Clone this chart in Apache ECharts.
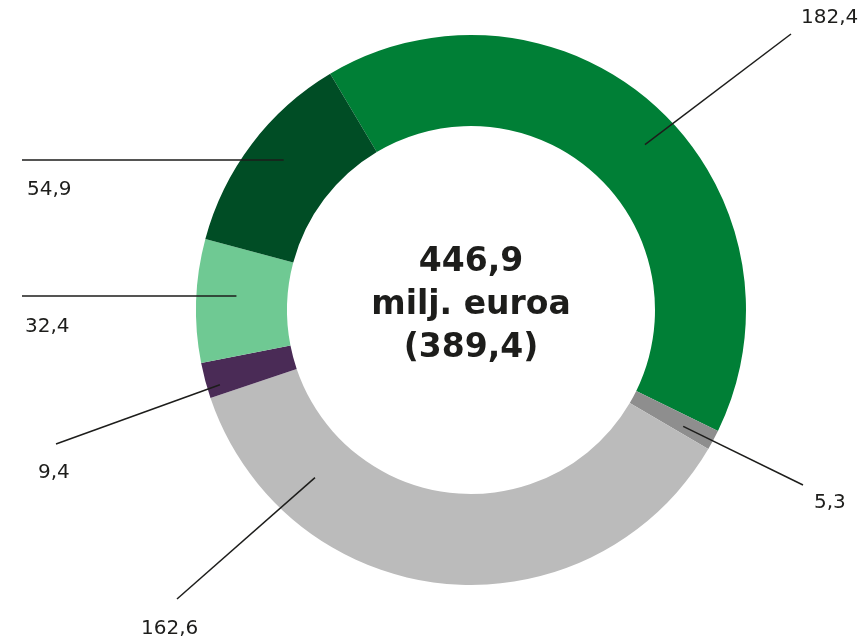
<!DOCTYPE html>
<html>
<head>
<meta charset="utf-8">
<script src="https://cdn.jsdelivr.net/npm/echarts@6/dist/echarts.min.js"></script>
<style>
  html, body { margin: 0; padding: 0; background: #fff; }
  #chart { width: 863px; height: 644px; }
</style>
</head>
<body>
<div id="chart"></div>
<script>
// values in milj. euroa, clockwise from the top
const categories = ["a", "b", "c", "d", "e", "f"];
const values = [182.4, 5.3, 162.6, 9.4, 32.4, 54.9];
const totalText = "446,9";
const unitText = "milj. euroa";
const prevText = "(389,4)";

const colors = ["#007f36", "#8e8e8e", "#bbbbbb", "#4a2b56", "#6fc993", "#004d25"];

// ring geometry
const CX = 471, CY = 310;
const R_IN = 184, R_OUT = 275;
const START = 120.8;

// leader lines: start angle shift / radius, line end, label anchor (left, middle)
const leaders = [
  { shift: 3.8, r: 240, end: [791, 34], label: [801, 18] },
  { shift: 0.5, r: 242, end: [803, 485], label: [814, 503] },
  { shift: 37.1, r: 229, end: [177, 599], label: [141, 629] },
  { shift: -1.7, r: 262, end: [56, 444], label: [38, 473] },
  { shift: 1.5, r: 235, end: [22, 296], label: [25, 327] },
  { shift: 1.6, r: 240, end: [22, 160], label: [27, 190] }
];

function fmt(v) {
  return String(v).replace(".", ",");
}

// move the library's anchor point to a radius and rotate it a bit
function leaderStart(p0, shiftDeg, r) {
  const dx = p0[0] - CX, dy = p0[1] - CY;
  const s = r / Math.hypot(dx, dy);
  const a = shiftDeg * Math.PI / 180;
  const c = Math.cos(a), sn = Math.sin(a);
  return [CX + s * (dx * c - dy * sn), CY + s * (dx * sn + dy * c)];
}

const pieData = categories.map((c, i) => ({ name: c, value: values[i] }));

const myChart = echarts.init(document.getElementById("chart"));

const option = {
  animation: false,
  backgroundColor: "#ffffff",
  color: colors,
  graphic: [{
    type: "text",
    x: CX,
    y: 305,
    z: 10,
    style: {
      text: totalText + "\n" + unitText + "\n" + prevText,
      align: "center",
      textAlign: "center",
      verticalAlign: "middle",
      textVerticalAlign: "middle",
      fontFamily: "DejaVu Sans",
      fontWeight: "bold",
      fontSize: 33,
      lineHeight: 43,
      fill: "#1d1d1b"
    }
  }],
  series: [
    {
      // the ring
      type: "pie",
      center: [CX, CY],
      radius: [R_IN, R_OUT],
      startAngle: START,
      clockwise: true,
      silent: true,
      z: 2,
      itemStyle: { borderWidth: 0 },
      label: { show: false },
      labelLine: { show: false },
      data: pieData
    },
    {
      // same slices, transparent, only for labels and leader lines on top
      type: "pie",
      center: [CX, CY],
      radius: [R_IN, R_OUT],
      startAngle: START,
      clockwise: true,
      avoidLabelOverlap: false,
      silent: true,
      z: 5,
      itemStyle: { color: "rgba(0,0,0,0)", borderWidth: 0 },
      label: {
        show: true,
        position: "outside",
        formatter: p => fmt(p.value),
        fontFamily: "DejaVu Sans",
        fontSize: 20,
        color: "#1d1d1b"
      },
      labelLine: {
        show: true,
        length: 10,
        length2: 0,
        lineStyle: { color: "#1d1d1b", width: 1.5 }
      },
      labelLayout: function (params) {
        const l = leaders[params.dataIndex];
        const p0 = params.labelLinePoints[0];
        const start = leaderStart(p0, l.shift, l.r);
        return {
          x: l.label[0],
          y: l.label[1],
          align: "left",
          verticalAlign: "middle",
          labelLinePoints: [start, l.end, l.end]
        };
      },
      data: pieData
    }
  ]
};

myChart.setOption(option);
</script>
</body>
</html>
